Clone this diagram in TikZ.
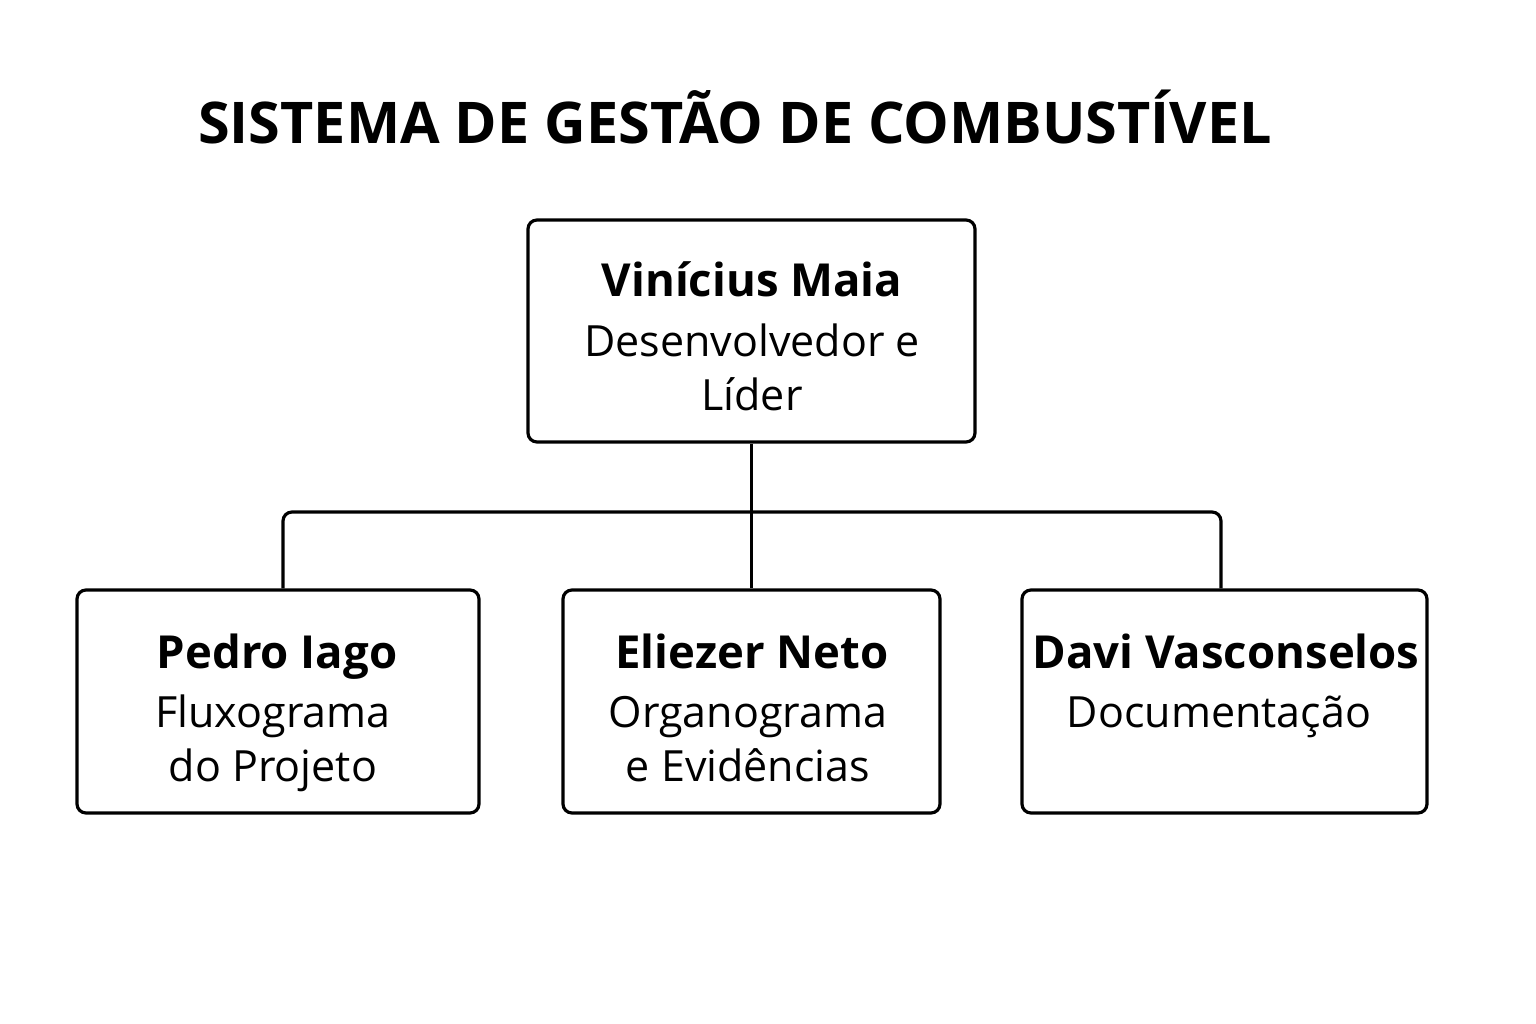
\documentclass[tikz,border=0pt]{standalone}
\usepackage{fontspec}
\setmainfont{Open Sans}
\begin{document}
\begin{tikzpicture}[x=1pt,y=-1pt,
  boxst/.style={draw=black, line width=3.2pt, rounded corners=9pt, fill=white},
  connst/.style={draw=black, line width=3.2pt},
  titletext/.style={font=\fontsize{57.5}{64}\selectfont\bfseries, anchor=base},
  nametext/.style={font=\fontsize{45.5}{52}\selectfont\bfseries, anchor=base},
  roletext/.style={font=\fontsize{43}{54}\selectfont, anchor=base}]
\useasboundingbox[fill=white] (0,0) rectangle (1536,1024);
\node[titletext] (t) at (735,144) {SISTEMA DE GESTÃO DE COMBUSTÍVEL};
% boxes
\node[boxst, minimum width=447pt, minimum height=222pt] (top) at (751.5,331) {};
\node[boxst, minimum width=402pt, minimum height=223pt] (left) at (278,701.5) {};
\node[boxst, minimum width=377pt, minimum height=223pt] (mid) at (751.5,701.5) {};
\node[boxst, minimum width=405pt, minimum height=223pt] (right) at (1224.5,701.5) {};
% connectors
\coordinate (bus) at (752,512);
\draw[connst] (top.south) -- (mid.north);
\draw[connst, rounded corners=9pt] ([xshift=5pt]left.north) |- (bus) -| ([xshift=-3.5pt]right.north);
% texts
\node[nametext] (n0) at (752,297) {Vinícius Maia};
\node[roletext] (r0a) at (752,356) {Desenvolvedor e};
\node[roletext] (r0b) at (752,410) {Líder};
\node[nametext] (n1) at (277,668) {Pedro Iago};
\node[roletext] (r1a) at (273,727) {Fluxograma};
\node[roletext] (r1b) at (273,781) {do Projeto};
\node[nametext] (n2) at (752,668) {Eliezer Neto};
\node[roletext] (r2a) at (748,727) {Organograma};
\node[roletext] (r2b) at (748,781) {e Evidências};
\node[nametext] (n3) at (1226,668) {Davi Vasconselos};
\node[roletext] (r3a) at (1219,727) {Documentação};
\end{tikzpicture}
\end{document}
